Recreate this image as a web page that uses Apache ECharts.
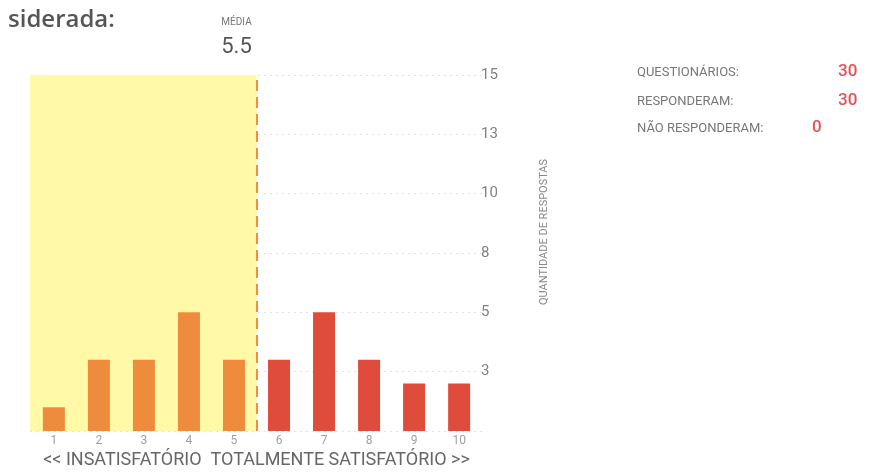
<!DOCTYPE html>
<html>
<head>
<meta charset="utf-8">
<script src="https://cdn.jsdelivr.net/npm/echarts@6/dist/echarts.min.js"></script>
<style>html,body{margin:0;padding:0;background:#fff}#c{width:872px;height:473px}</style>
</head>
<body>
<div id="c"></div>
<script>
const scores = [1, 2, 3, 4, 5, 6, 7, 8, 9, 10];
const counts = [1, 3, 3, 5, 3, 3, 5, 3, 2, 2];
const mean = 5.5;
const yMax = 15;
const yStep = 2.5;
const statLabels = ['QUESTIONÁRIOS:', 'RESPONDERAM:', 'NÃO RESPONDERAM:'];
const statValues = ['30', '30', '0'];
const titleText = 'siderada:';
const meanLabel = 'MÉDIA';
const yName = 'QUANTIDADE DE RESPOSTAS';
const xName = '<< INSATISFATÓRIO  TOTALMENTE SATISFATÓRIO >>';

const ORANGE = '#EF8B3D', RED = '#DF4C3C';
const chart = echarts.init(document.getElementById('c'));

const graphics = [];
const statY = [74, 103, 130];
const statValX = [838, 838, 812];
statLabels.forEach((t, i) => {
  graphics.push({type: 'text', left: 637, top: statY[i] - 8, style: {text: t, font: '13px Roboto', fill: '#777'}});
  graphics.push({type: 'text', left: statValX[i], top: statY[i] - 11, style: {text: statValues[i], font: '500 17px Roboto', fill: '#E2525A'}});
});
graphics.push({type: 'text', x: 544, y: 232, rotation: Math.PI / 2,
  style: {text: yName, font: '11px Roboto', fill: '#888', align: 'center', verticalAlign: 'middle'}});

chart.setOption({
  animation: false,
  textStyle: {fontFamily: 'Roboto'},
  title: {text: titleText, left: 3, top: 3, textStyle: {fontFamily: 'Open Sans', fontSize: 24, fontWeight: 600, color: '#555'}},
  graphic: graphics,
  grid: {left: 30, top: 75, width: 453, height: 356, containLabel: false, outerBoundsMode: 'none'},
  xAxis: {
    type: 'value', min: 0.47, max: 10.53,
    axisLine: {show: false}, axisTick: {show: false}, splitLine: {show: false},
    axisLabel: {customValues: scores, color: '#a0a0a0', fontSize: 12, margin: 4},
    name: xName, nameLocation: 'middle', nameGap: 20,
    nameTextStyle: {color: '#666', fontSize: 18}
  },
  yAxis: {
    type: 'value', position: 'right', min: 0, max: yMax, interval: yStep,
    axisLine: {show: false}, axisTick: {show: false},
    axisLabel: {color: '#808080', fontSize: 15, margin: -2,
      formatter: v => v === 0 ? '' : String(Math.round(v))},
    splitLine: {show: true, lineStyle: {color: '#e3e3e3', type: [2, 4], width: 1}}
  },
  series: [{
    type: 'bar',
    barWidth: 22,
    data: scores.map((s, i) => ({value: [s, counts[i]], itemStyle: {color: s <= mean ? ORANGE : RED}})),
    markArea: {
      silent: true,
      itemStyle: {color: '#FFF9A8'},
      data: [[{xAxis: 0.47, yAxis: 0}, {xAxis: mean, yAxis: yMax}]]
    },
    markLine: {
      silent: true, symbol: 'none',
      lineStyle: {color: '#F0903A', type: [11, 6], width: 2},
      label: {
        show: true, position: 'end', distance: 15, offset: [-20, 0],
        formatter: () => '{a|' + meanLabel + '}\n{b|' + mean + '}',
        rich: {
          a: {fontSize: 10, color: '#777', align: 'center', lineHeight: 24},
          b: {fontSize: 22, color: '#555', align: 'center', lineHeight: 26}
        }
      },
      data: [[{coord: [mean, 0]}, {coord: [mean, yMax]}]]
    }
  }]
});
</script>
</body>
</html>
